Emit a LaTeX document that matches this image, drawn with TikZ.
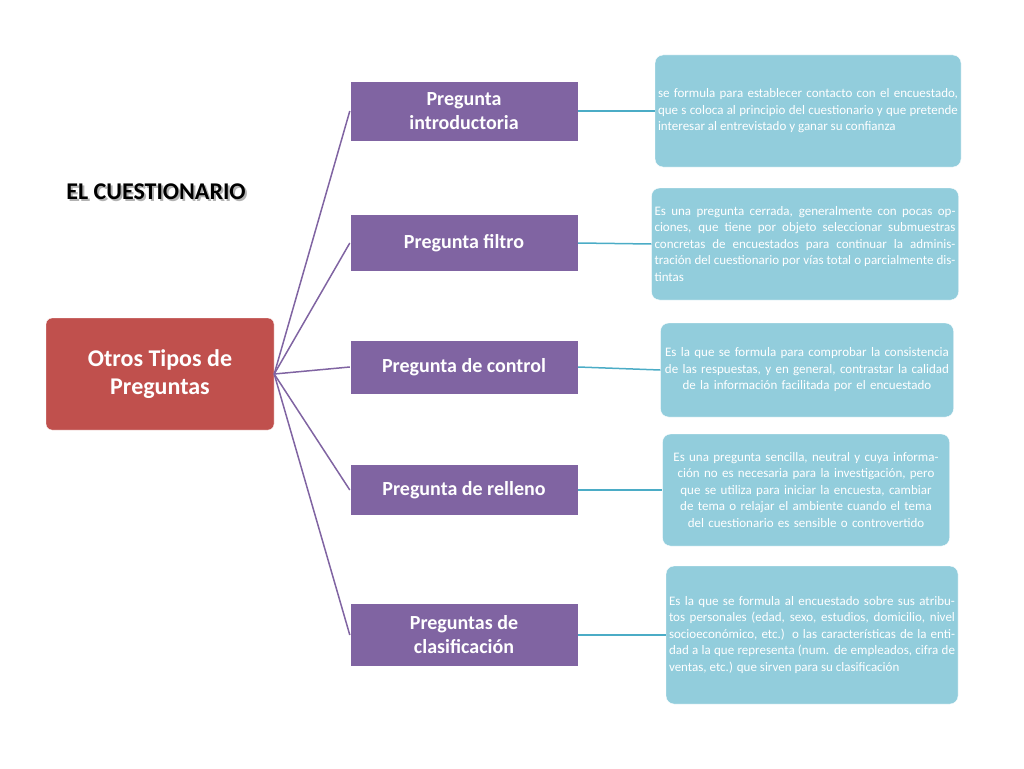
\documentclass[tikz,border=0pt]{standalone}
\usepackage{fontspec}
\setmainfont{Carlito}
\usetikzlibrary{positioning}
\definecolor{rojo}{HTML}{C0504D}
\definecolor{morado}{HTML}{8064A2}
\definecolor{celeste}{HTML}{92CDDC}
\definecolor{turquesa}{HTML}{4BACC6}
\tikzset{
  raiz/.style={fill=rojo, draw=white, rounded corners=6pt, minimum width=228pt, minimum height=112pt, text=white, font=\fontsize{24}{28}\selectfont\bfseries, align=center},
  tipo/.style={fill=morado, draw=white, minimum width=228pt, text=white, font=\fontsize{20}{24}\selectfont\bfseries, align=center},
  nota/.style={fill=celeste, draw=white, rounded corners=8pt, text=white, font=\fontsize{13}{16.5}\selectfont, inner sep=3pt},
  rama/.style={morado, line width=1.5pt},
  enlace/.style={turquesa, line width=1.5pt}
}
\begin{document}
\begin{tikzpicture}[x=1pt, y=-1pt]
\useasboundingbox (0,0) rectangle (1024,768);

\node at (158,194) {\textcolor{gray!60}{\fontsize{24}{28}\selectfont\bfseries EL CUESTIONARIO}};
\node (titulo) at (156,192) {\fontsize{24}{28}\selectfont\bfseries EL CUESTIONARIO};

\node[raiz] (otros) at (160,374) {Otros Tipos de\\Preguntas};

\node[tipo, minimum height=60pt] (intro) at (464,111) {Pregunta\\introductoria};
\node[tipo, minimum height=57pt] (filtro) at (464,243) {Pregunta filtro};
\node[tipo, minimum height=54pt] (control) at (464,367) {Pregunta de control};
\node[tipo, minimum height=51pt] (relleno) at (464,490) {Pregunta de relleno};
\node[tipo, minimum height=63pt] (clasif) at (464,635) {Preguntas de\\clasificación};

\node[nota, minimum height=112pt, text width=300pt, align=justify] (n1) at (808,111)
  {se formula para establecer contacto con el encuestado, que s coloca al principio del cuestionario y que pretende interesar al entrevistado y ganar su confianza};
\node[nota, minimum height=112pt, text width=301pt, align=justify] (n2) at (805,244)
  {Es una pregunta cerrada, generalmente con pocas opciones, que tiene por objeto seleccionar submuestras concretas de encuestados para continuar la administración del cuestionario por vías total o parcialmente distintas};
\node[nota, minimum height=94pt, text width=287pt, align=center] (n3) at (807,370)
  {Es la que se formula para comprobar la consistencia de las respuestas, y en general, contrastar la calidad de la información facilitada por el encuestado};
\node[nota, minimum height=112pt, text width=281pt, align=center] (n4) at (806,490)
  {Es una pregunta sencilla, neutral y cuya información no es necesaria para la investigación, pero que se utiliza para iniciar la encuesta, cambiar de tema o relajar el ambiente cuando el tema del cuestionario es sensible o controvertido};
\node[nota, minimum height=138pt, text width=286pt, align=justify] (n5) at (812,635)
  {Es la que se formula al encuestado sobre sus atributos personales (edad, sexo, estudios, domicilio, nivel socioeconómico, etc.) o las características de la entidad a la que representa (num. de empleados, cifra de ventas, etc.) que sirven para su clasificación};

\foreach \t in {intro, filtro, control, relleno, clasif}
  \draw[rama] (otros.east) -- (\t.west);

\draw[enlace] (intro.east) -- (n1.west);
\draw[enlace] (filtro.east) -- (n2.west);
\draw[enlace] (control.east) -- (n3.west);
\draw[enlace] (relleno.east) -- (n4.west);
\draw[enlace] (clasif.east) -- (n5.west);

\end{tikzpicture}
\end{document}
